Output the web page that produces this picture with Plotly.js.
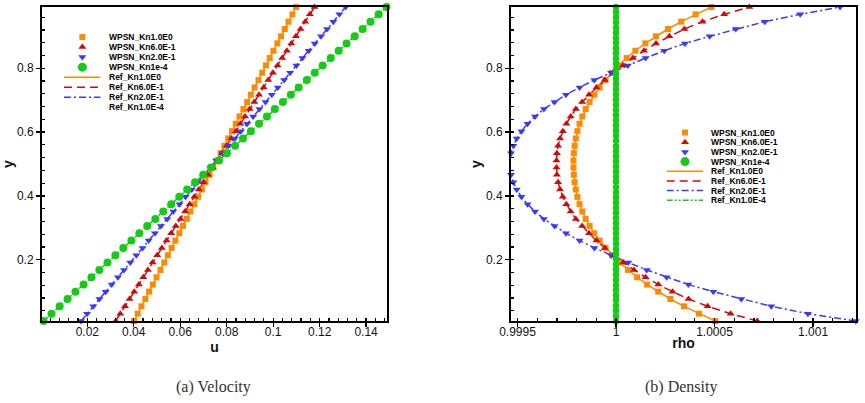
<!DOCTYPE html>
<html>
<head>
<meta charset="utf-8">
<script src="https://cdn.plot.ly/plotly-3.0.1.min.js"></script>
<style>html,body{margin:0;padding:0;background:#fff}#chart{width:865px;height:403px}</style>
</head>
<body>
<div id="chart"></div>
<script>
// ---------- data ----------
var yPts = [0.008,0.031,0.054,0.077,0.100,0.122,0.145,0.168,0.191,0.214,0.237,0.260,0.283,0.306,0.328,0.351,0.374,0.397,0.420,0.443,0.466,0.489,
            0.511,0.534,0.557,0.580,0.603,0.626,0.649,0.672,0.694,0.717,0.740,0.763,0.786,0.809,0.832,0.855,0.878,0.900,0.923,0.946,0.969,0.992];

// (a) velocity u(y)
var uKn1   = [0.0401,0.0417,0.0433,0.0450,0.0466,0.0482,0.0498,0.0515,0.0531,0.0547,0.0563,0.0579,0.0596,0.0612,0.0628,0.0644,0.0661,0.0677,0.0693,0.0709,0.0726,0.0742,
              0.0758,0.0774,0.0790,0.0807,0.0823,0.0839,0.0855,0.0872,0.0888,0.0904,0.0920,0.0937,0.0953,0.0969,0.0985,0.1001,0.1018,0.1034,0.1050,0.1066,0.1083,0.1099];
var uKn06  = [0.0322,0.0342,0.0362,0.0382,0.0402,0.0422,0.0441,0.0461,0.0481,0.0501,0.0521,0.0541,0.0561,0.0581,0.0601,0.0621,0.0641,0.0661,0.0680,0.0700,0.0720,0.0740,
              0.0760,0.0780,0.0800,0.0820,0.0840,0.0859,0.0879,0.0899,0.0919,0.0939,0.0959,0.0979,0.0999,0.1019,0.1039,0.1059,0.1078,0.1098,0.1118,0.1138,0.1158,0.1178];
var uKn02  = [0.0173,0.0199,0.0226,0.0252,0.0279,0.0305,0.0332,0.0358,0.0385,0.0411,0.0438,0.0464,0.0491,0.0517,0.0544,0.0570,0.0597,0.0623,0.0650,0.0676,0.0703,0.0729,
              0.0755,0.0782,0.0808,0.0835,0.0861,0.0888,0.0914,0.0941,0.0967,0.0994,0.1020,0.1047,0.1073,0.1100,0.1126,0.1153,0.1179,0.1206,0.1232,0.1259,0.1285,0.1312];
var uKn1e4 = [0.0012,0.0046,0.0081,0.0115,0.0149,0.0184,0.0218,0.0252,0.0287,0.0321,0.0355,0.0390,0.0424,0.0458,0.0493,0.0527,0.0561,0.0596,0.0630,0.0664,0.0699,0.0733,
              0.0767,0.0801,0.0836,0.0870,0.0904,0.0939,0.0973,0.1007,0.1042,0.1076,0.1110,0.1145,0.1179,0.1213,0.1248,0.1282,0.1316,0.1351,0.1385,0.1419,0.1454,0.1488];

// (b) density rho(y)
var rhoKn1  = [1.000504,1.000421,1.000345,1.000276,1.000214,1.000158,1.000107,1.000061,1.000019,0.999981,0.999947,0.999917,0.999890,0.999866,0.999846,0.999829,0.999815,0.999804,0.999796,0.999790,0.999786,0.999784,
               0.999784,0.999786,0.999790,0.999796,0.999804,0.999815,0.999829,0.999846,0.999866,0.999890,0.999917,0.999946,0.999979,1.000014,1.000054,1.000098,1.000149,1.000203,1.000264,1.000331,1.000404,1.000484];
var rhoKn06 = [1.000717,1.000582,1.000465,1.000368,1.000287,1.000215,1.000150,1.000091,1.000037,0.999988,0.999943,0.999901,0.999863,0.999828,0.999796,0.999770,0.999748,0.999730,0.999716,0.999706,0.999700,0.999698,
               0.999698,0.999700,0.999706,0.999716,0.999730,0.999748,0.999770,0.999796,0.999828,0.999863,0.999901,0.999943,0.999986,1.000035,1.000086,1.000142,1.000203,1.000271,1.000347,1.000439,1.000549,1.000677];
var rhoKn02 = [1.001217,1.000974,1.000788,1.000636,1.000494,1.000367,1.000257,1.000156,1.000062,0.999975,0.999890,0.999815,0.999746,0.999688,0.999634,0.999589,0.999551,0.999520,0.999496,0.999479,0.999467,0.999461,
               0.999461,0.999467,0.999479,0.999496,0.999520,0.999551,0.999589,0.999634,0.999688,0.999746,0.999815,0.999890,0.999975,1.000060,1.000150,1.000245,1.000350,1.000475,1.000608,1.000755,1.000935,1.001137];
var yFine = [0.008,0.024,0.040,0.056,0.073,0.089,0.105,0.121,0.137,0.153,0.169,0.185,0.202,0.218,0.234,0.250,0.266,0.282,0.298,0.314,0.331,0.347,0.363,0.379,0.395,0.411,0.427,0.444,0.460,0.476,0.492,
             0.508,0.524,0.540,0.556,0.573,0.589,0.605,0.621,0.637,0.653,0.669,0.686,0.702,0.718,0.734,0.750,0.766,0.782,0.798,0.815,0.831,0.847,0.863,0.879,0.895,0.911,0.927,0.944,0.960,0.976,0.992];
var rhoKn1e4 = [1,1,1,1,1,1,1,1,1,1,1,1,1,1,1,1,1,1,1,1,1,1,1,1,1,1,1,1,1,1,1,
                1,1,1,1,1,1,1,1,1,1,1,1,1,1,1,1,1,1,1,1,1,1,1,1,1,1,1,1,1,1,1];

var rhoTickVals = [0.9995, 1, 1.0005, 1.001];
var rhoTickText = ['0.9995', '1', '1.0005', '1.001'];
var legendLabels = ['WPSN_Kn1.0E0','WPSN_Kn6.0E-1','WPSN_Kn2.0E-1','WPSN_Kn1e-4','Ref_Kn1.0E0','Ref_Kn6.0E-1','Ref_Kn2.0E-1','Ref_Kn1.0E-4'];
var captions = ['(a) Velocity', '(b) Density'];

// ---------- styles ----------
var cOrange = '#ff8a00', cRed = '#d00a0a', cBlue = '#3838ff', cGreen = '#13cc13';
var styles = [
  {kind:'m', symbol:'square', color:cOrange, size:6},
  {kind:'m', symbol:'triangle-up', color:cRed, size:7},
  {kind:'m', symbol:'triangle-down', color:cBlue, size:7},
  {kind:'m', symbol:'circle', color:cGreen, size:9},
  {kind:'l', color:cOrange, dash:'solid'},
  {kind:'l', color:cRed, dash:'8px,5px'},
  {kind:'l', color:cBlue, dash:'7px,3px,2px,3px'},
  {kind:'l', color:cGreen, dash:'6px,2px,2px,2px,2px,2px'}
];
var LW = 1.5;

function lineTrace(x, y, st, xa, ya) {
  return {type:'scatter', mode:'lines', x:x, y:y, xaxis:xa, yaxis:ya, showlegend:false, hoverinfo:'skip',
          cliponaxis:false, line:{color:st.color, width:LW, dash:st.dash}};
}
function markTrace(x, y, st, xa, ya, size) {
  return {type:'scatter', mode:'markers', x:x, y:y, xaxis:xa, yaxis:ya, showlegend:false, hoverinfo:'skip',
          cliponaxis:false, marker:{symbol:st.symbol, color:st.color, size:size || st.size, line:{width:0}}};
}

var traces = [];
// (a)
traces.push(lineTrace(uKn1,   yPts, styles[4], 'x', 'y'));
traces.push(lineTrace(uKn06,  yPts, styles[5], 'x', 'y'));
traces.push(lineTrace(uKn02,  yPts, styles[6], 'x', 'y'));
traces.push(lineTrace(uKn1e4, yPts, styles[7], 'x', 'y'));
traces.push(markTrace(uKn1,   yPts, styles[0], 'x', 'y'));
traces.push(markTrace(uKn06,  yPts, styles[1], 'x', 'y'));
traces.push(markTrace(uKn02,  yPts, styles[2], 'x', 'y'));
traces.push(markTrace(uKn1e4, yPts, styles[3], 'x', 'y', 8));
// (b)
traces.push(lineTrace(rhoKn1,  yPts, styles[4], 'x2', 'y2'));
traces.push(lineTrace(rhoKn06, yPts, styles[5], 'x2', 'y2'));
traces.push(lineTrace(rhoKn02, yPts, styles[6], 'x2', 'y2'));
traces.push(markTrace(rhoKn1,  yPts, styles[0], 'x2', 'y2'));
traces.push(markTrace(rhoKn06, yPts, styles[1], 'x2', 'y2'));
traces.push(markTrace(rhoKn02, yPts, styles[2], 'x2', 'y2'));
traces.push(markTrace(rhoKn1e4, yFine, styles[3], 'x2', 'y2', 6.5));

// legends on hidden helper axes (row index -> position)
var annotations = [];
function buildLegend(xa, ya, skipLast) {
  legendLabels.forEach(function (lab, i) {
    var st = styles[i];
    if (st.kind === 'm') {
      traces.push(markTrace([0.5], [i], st, xa, ya));
    } else if (!(skipLast && i === legendLabels.length - 1)) {
      traces.push(lineTrace([0, 1], [i, i], st, xa, ya));
    }
    annotations.push({xref:xa, yref:ya, x:1, y:i, xanchor:'left', yanchor:'middle', xshift:6, showarrow:false,
                      text:lab, font:{family:'Liberation Sans, Arial, sans-serif', size:8.5, color:'#000', weight:'bold'}});
  });
}
buildLegend('x3', 'y3', true);
buildLegend('x4', 'y4', false);

annotations.push({xref:'paper', yref:'paper', x:213/865, y:(403-387)/403, xanchor:'center', yanchor:'middle', showarrow:false,
                  text:captions[0], font:{family:'Liberation Serif, DejaVu Serif, serif', size:16, color:'#333'}});
annotations.push({xref:'paper', yref:'paper', x:681/865, y:(403-387)/403, xanchor:'center', yanchor:'middle', showarrow:false,
                  text:captions[1], font:{family:'Liberation Serif, DejaVu Serif, serif', size:16, color:'#333'}});

var tickFont = {family:'Liberation Sans, Arial, sans-serif', size:12, color:'#111'};
var titleFont = {family:'Liberation Sans, Arial, sans-serif', size:14, color:'#111', weight:'bold'};
function baseAxis(extra) {
  var a = {showgrid:false, zeroline:false, showline:true, linecolor:'#000', linewidth:2, mirror:true,
           ticks:'outside', ticklen:4, tickwidth:1.2, tickcolor:'#000', tickfont:tickFont, automargin:false};
  for (var k in extra) a[k] = extra[k];
  return a;
}
var yDom = [(403-321)/403, (403-7)/403];

var layout = {
  width:865, height:403, margin:{l:0, r:0, t:0, b:0},
  paper_bgcolor:'#fff', plot_bgcolor:'rgba(0,0,0,0)', showlegend:false,
  xaxis: baseAxis({domain:[42/865, 387/865], anchor:'y', range:[0.0005, 0.149], tick0:0, dtick:0.02,
                   ticklabelstandoff:-5,
                   minor:{dtick:0.004, ticks:'inside', ticklen:3, tickcolor:'#000'},
                   title:{text:'u', font:titleFont, standoff:0}}),
  yaxis: baseAxis({domain:yDom, anchor:'x', range:[0.008, 0.992], tick0:0, dtick:0.2,
                   minor:{dtick:0.04, ticks:'inside', ticklen:3, tickcolor:'#000'},
                   title:{text:'y', font:titleFont, standoff:1}}),
  xaxis2: baseAxis({domain:[511/865, 856/865], anchor:'y2', range:[0.999467, 1.001218], tickmode:'array',
                    tickvals:rhoTickVals, ticktext:rhoTickText, ticklabelstandoff:-5,
                    minor:{tickmode:'linear', tick0:1, dtick:0.0001, ticks:'inside', ticklen:3, tickcolor:'#000'},
                    title:{text:'rho', font:titleFont, standoff:0}}),
  yaxis2: baseAxis({domain:yDom, anchor:'x2', range:[0.008, 0.992], tick0:0, dtick:0.2,
                    minor:{dtick:0.04, ticks:'inside', ticklen:3, tickcolor:'#000'},
                    title:{text:'y', font:titleFont, standoff:1}}),
  xaxis3: {visible:false, domain:[64/865, 100.7/865], range:[0, 1], anchor:'y3', fixedrange:true},
  yaxis3: {visible:false, domain:[(403-112.3)/403, (403-32)/403], range:[7.5, -0.5], anchor:'x3', fixedrange:true},
  xaxis4: {visible:false, domain:[666.7/865, 703.3/865], range:[0, 1], anchor:'y4', fixedrange:true},
  yaxis4: {visible:false, domain:[(403-205.1)/403, (403-127.7)/403], range:[7.5, -0.5], anchor:'x4', fixedrange:true},
  annotations: annotations
};

Plotly.newPlot('chart', traces, layout, {displayModeBar:false, staticPlot:true});
</script>
</body>
</html>
